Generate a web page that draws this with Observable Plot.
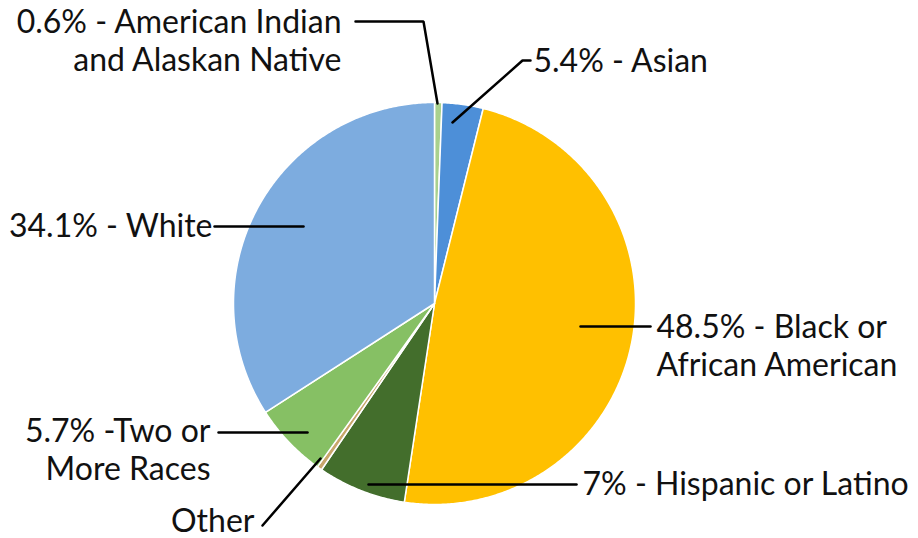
<!DOCTYPE html>
<html><head><meta charset="utf-8">
<script src="https://cdn.jsdelivr.net/npm/d3@7"></script>
<script src="https://cdn.jsdelivr.net/npm/@observablehq/plot@0.6"></script>
<style>html,body{margin:0;padding:0;background:#fff;overflow:hidden}</style>
</head><body><div id="chart"></div>
<script>
// ---- data (slice order: clockwise from 12 o'clock) ----
const categories = ["American Indian and Alaskan Native", "Asian", "Black or African American", "Hispanic or Latino", "Other", "Two or More Races", "White"];
// slice sizes as drawn in the picture (percent)
const shares = [0.6, 3.3, 48.5, 7.1, 0.4, 6.0, 34.1];
// label texts as printed
const labels = ["0.6% - American Indian\nand Alaskan Native", "5.4% - Asian", "48.5% - Black or\nAfrican American", "7% - Hispanic or Latino", "Other", "5.7% -Two or\nMore Races", "34.1% - White"];
const colors = ["#a9d18e", "#4d8fd8", "#ffc000", "#436e2c", "#c9a66b", "#86c064", "#7dacdf"];

// ---- layout (pixels) ----
const W = 918, H = 538, CX = 434, CY = 303, R = 201;
// label anchor, text anchor, leader path
const labelLayout = [
  {x: 341, y: 39, anchor: "end", leader: [[437, 103], [423, 21], [355, 21]]},
  {x: 533, y: 59, anchor: "start", leader: [[452, 122], [522, 60], [530, 60]]},
  {x: 656, y: 344, anchor: "start", leader: [[580, 326], [650, 326]]},
  {x: 582, y: 482, anchor: "start", leader: [[368, 484], [576, 484]]},
  {x: 254, y: 519, anchor: "end", leader: [[320, 458], [262, 525]]},
  {x: 210, y: 448, anchor: "end", leader: [[307, 432], [218, 432]]},
  {x: 212, y: 224, anchor: "end", leader: [[303, 226], [214, 226]]}
];

// data units: radius = 1, y up
const ux = px => (px - CX) / R;
const uy = py => (CY - py) / R;

const total = d3.sum(shares);
let cum = 0;
const slices = categories.map((c, i) => {
  const a0 = cum / total * 2 * Math.PI;
  cum += shares[i];
  const a1 = cum / total * 2 * Math.PI;
  const n = Math.max(2, Math.ceil((a1 - a0) / (Math.PI / 360)));
  const pts = [{x: 0, y: 0}];
  for (let k = 0; k <= n; k++) {
    const a = a0 + (a1 - a0) * k / n;
    pts.push({x: Math.sin(a), y: Math.cos(a)});
  }
  return {category: c, color: colors[i], pts};
});

const leaders = labelLayout.map((l, i) => l.leader.map(([px, py]) => ({x: ux(px), y: uy(py), id: i}))).flat();
const texts = labelLayout.map((l, i) => ({x: ux(l.x), y: uy(l.y), text: labels[i], anchor: l.anchor}));

const marks = [
  ...slices.map(s => Plot.line(s.pts, {x: "x", y: "y", curve: "linear-closed", fill: s.color, stroke: "white", strokeWidth: 1.5, strokeLinejoin: "round"})),
  Plot.line(leaders, {x: "x", y: "y", z: "id", stroke: "#000", strokeWidth: 2.5, strokeLinejoin: "miter"}),
  ...["start", "end"].map(a => Plot.text(texts.filter(t => t.anchor === a), {
    x: "x", y: "y", text: "text", textAnchor: a, lineAnchor: "middle", lineHeight: 1.21,
    fontSize: 32, fontFamily: "Lato", fill: "#111"
  }))
];

const chart = Plot.plot({
  width: W, height: H,
  margin: 0,
  x: {domain: [ux(0), ux(W)], range: [0, W], axis: null},
  y: {domain: [uy(H), uy(0)], range: [H, 0], axis: null},
  style: {background: "#fff", fontFamily: "Lato"},
  marks
});
document.getElementById("chart").appendChild(chart);
</script>
</body></html>
